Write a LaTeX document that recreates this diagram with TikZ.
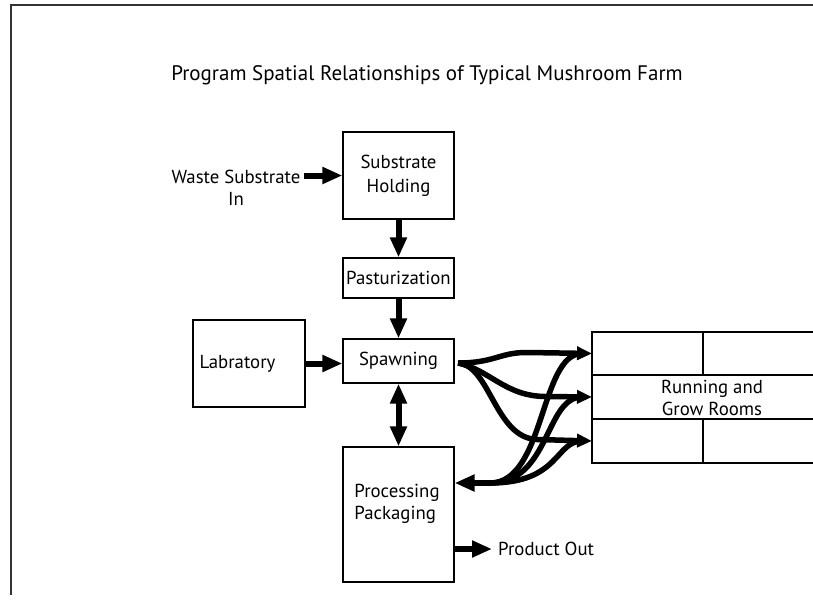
\documentclass[tikz,border=0pt]{standalone}
\usepackage{fontspec}
\setmainfont{PT Sans}
\usetikzlibrary{arrows.meta}
\begin{document}
\begin{tikzpicture}[x=1pt,y=-1pt,
  lbl/.style={font=\fontsize{18.8}{22}\selectfont},
  box/.style={draw, line width=1.2pt, inner sep=0pt, align=center, lbl},
  flow/.style={line width=6pt, -{Triangle[length=20pt,width=16pt]}},
  duo/.style={line width=6pt, {Triangle[length=20pt,width=16pt]}-{Triangle[length=20pt,width=16pt]}},
  route/.style={line width=5.5pt},
  routeout/.style={line width=5.5pt, -{Triangle[length=15pt,width=13pt]}},
  frame/.style={line width=1.5pt, draw=black!80}
]
\useasboundingbox (0,0) rectangle (813,603);
\clip (0,0) rectangle (813,603);

% page frame
\draw[frame] (11,595) -- (11,5) -- (820,5);

% title
\node[font=\fontsize{21}{24}\selectfont] (title) at (427,75) {Program Spatial Relationships of Typical Mushroom Farm};

% rooms
\node[box, minimum width=111pt, minimum height=87pt, font=\fontsize{18.8}{24}\selectfont] (sub) at (398.5,175.5) {Substrate\\Holding};
\node[box, minimum width=111pt, minimum height=40pt] (past) at (398.5,278) {Pasturization};
\node[box, minimum width=112pt, minimum height=87pt, text width=99pt, inner xsep=6pt, align=left] (lab) at (249,363.5) {Labratory};
\node[box, minimum width=111pt, minimum height=44pt] (spawn) at (398.5,361) {Spawning};
\node[box, minimum width=111pt, minimum height=135pt] (proc) at (398.5,514.5) {};
\node[lbl, align=left, inner sep=0pt] (proclabel) at (397,504) {Processing\\Packaging};

% running and grow rooms block
\node[box, minimum width=240pt, minimum height=131pt] (grow) at (712,397.5) {Running and\\Grow Rooms};
\coordinate (r1) at (592,353.5);
\coordinate (r2) at (592,397);
\coordinate (r3) at (592,441);
\draw[line width=1.2pt] (592,375) -- (832,375) (592,419) -- (832,419);
\draw[line width=1.2pt] (703,332) -- (703,375) (703,419) -- (703,463);

% free labels
\node[lbl, align=center, inner sep=0pt] (waste) at (236,188) {Waste Substrate\\In};
\node[lbl, anchor=west, inner sep=0pt] (out) at (498,549) {Product Out};

% straight flows
\draw[flow] ([xshift=3pt]waste.east |- sub.west) -- (sub.west);
\draw[flow] (sub.south) -- (past.north);
\draw[flow] (past.south) -- (spawn.north);
\draw[flow] (lab.east) -- (lab.east -| spawn.west);
\draw[duo] (spawn.south) -- (proc.north);
\draw[flow] (proc.east |- out.west) -- ([xshift=-6pt]out.west);

% spawning out to the grow rooms
\coordinate (s0) at (458,363);
\draw[routeout] (s0) .. controls (495,363) and (500,352) .. (528,352.5) -- (r1);
\draw[routeout] (s0) .. controls (490,370) and (505,396) .. (545,396.5) -- (r2);
\draw[routeout] (s0) .. controls (490,365) and (495,438) .. (537,439.5) -- (r3);

% grow rooms back to processing
\coordinate (m) at (490,483);
\draw[route] (m) .. controls (545,483) and (540,353.5) .. (582,353.5);
\draw[route] (m) .. controls (550,483) and (545,397) .. (582,397);
\draw[route] (m) .. controls (560,483) and (555,441) .. (582,441);
\draw[flow] ([xshift=1pt]m) -- (m -| proc.east);
\end{tikzpicture}
\end{document}
